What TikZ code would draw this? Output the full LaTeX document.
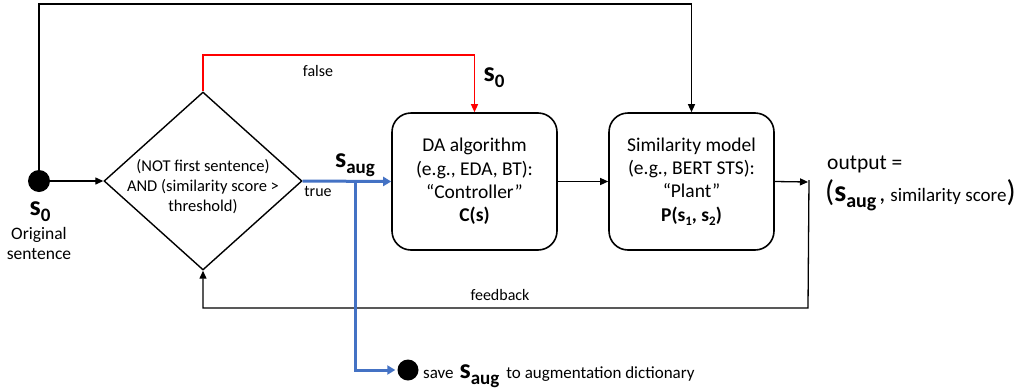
\documentclass[tikz,border=0pt]{standalone}
\usepackage{fontspec}
\setmainfont{Carlito}
\usetikzlibrary{shapes.geometric,arrows.meta}

% lowered subscript in the current font context
\newcommand\dn[1]{\raisebox{-0.45ex}{#1}}
\newcommand\sz[2]{\fontsize{#1}{#2}\selectfont}

\definecolor{flowblue}{RGB}{68,114,196}
\definecolor{flowred}{RGB}{255,0,0}

\begin{document}
\begin{tikzpicture}[x=1pt,y=-1pt,
  line/.style={line width=1.3pt, draw=black},
  arr/.style={line, -{Triangle[length=8pt,width=7pt]}},
  redarr/.style={line width=1.3pt, draw=flowred, -{Triangle[length=8pt,width=7pt]}},
  bluearr/.style={line width=3pt, draw=flowblue, -{Triangle[length=8pt,width=9pt]}},
  blockbox/.style={draw, line width=1.6pt, rounded corners=19pt, minimum width=165pt,
    minimum height=137pt, align=center, inner sep=0pt, font=\sz{19.5}{23.3}},
  dot/.style={circle, fill=black, inner sep=0pt},
  lbl/.style={inner sep=0pt, font=\sz{16}{19}},
  bigs/.style={inner sep=0pt, font=\sz{28}{32}\bfseries}
]
\useasboundingbox (0,0) rectangle (1021,389);

% nodes
\node[dot, minimum size=22pt] (s0) at (39,181) {};
\node[bigs] (s0lbl) at (40,212) {s\dn{\sz{19}{22}0}};
\node[inner sep=0pt, align=center, font=\sz{17.5}{20}] (orig) at (39,243) {Original\\sentence};

\node[draw, diamond, line width=1.4pt, minimum width=198pt, minimum height=178pt,
  inner sep=0pt] (dia) at (203,181) {};
\node[inner sep=0pt, align=center, font=\sz{16.5}{20}] (diatext) at (203,187)
  {(NOT first sentence)\\AND (similarity score {>}\\threshold)};

\node[blockbox] (da) at (474.5,181.5)
  {DA algorithm\\(e.g., EDA, BT):\\“Controller”\\\textbf{C(s)}};
\node[blockbox] (sim) at (691.5,181.5)
  {Similarity model\\(e.g., BERT STS):\\“Plant”\\\textbf{P(s\dn{\sz{13}{15}1}, s\dn{\sz{13}{15}2})}};

\node[dot, minimum size=21pt] (save) at (408,370) {};
\node[anchor=base west, inner sep=0pt, font=\sz{17}{20}] (savetxt) at (423,378)
  {save\kern6pt{\sz{28}{32}\bfseries s\dn{\sz{19}{22}aug}}\kern7pt to augmentation dictionary};

\node[anchor=base west, inner sep=0pt, font=\sz{21.5}{25}] (out1) at (827,169) {output =};
\node[anchor=base west, inner sep=0pt, font=\sz{19}{22}] (out2) at (825,201)
  {{\sz{30}{34}(}{\sz{30}{34}\bfseries s\dn{\sz{20}{24}aug}}\kern3pt{\sz{24}{28},}\kern5pt similarity score{\sz{30}{34})}};

% labels on connectors
\node[lbl] (lfalse) at (318,71) {false};
\node[bigs] (s0red) at (494,78) {s\dn{\sz{19}{22}0}};
\node[lbl] (ltrue) at (318,191) {true};
\node[bigs] (saug) at (355,165) {s\dn{\sz{19}{22}aug}};
\node[lbl] (lfb) at (500,295) {feedback};

% routing points
\coordinate (toprow) at (0,4);
\coordinate (redrow) at (0,55);
\coordinate (outj) at (808,182);
\coordinate (fbrow) at (0,308);
\coordinate (branch) at (355,181);

% connectors
\draw[arr] (s0.east) -- (dia.west);
\draw[arr] (s0.north) |- (toprow -| sim.north) -- (sim.north);
\draw[redarr] (dia.north) |- (redrow -| da.north) -- (da.north);
\draw[arr] (da.east) -- (sim.west);
\draw[arr] (sim.east) -- (outj);
\draw[arr] (outj) ++(1,-2) -- (outj |- fbrow) -| (dia.south);
\draw[bluearr] (dia.east) -- (da.west);
\draw[bluearr, shorten >=2pt] (branch) |- (save.west);
\end{tikzpicture}
\end{document}
